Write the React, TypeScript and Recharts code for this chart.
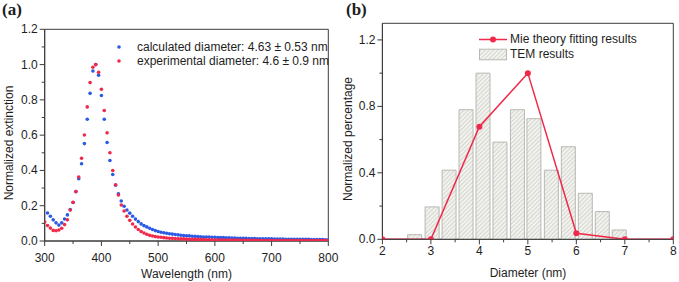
import {
  Bar,
  ComposedChart,
  Legend,
  Line,
  ReferenceArea,
  Scatter,
  ScatterChart,
  XAxis,
  YAxis,
} from "recharts";

// (a) extinction spectra, 5 nm steps
const wavelengths = [
  300, 305, 310, 315, 320, 325, 330, 335, 340, 345,
  350, 355, 360, 365, 370, 375, 380, 385, 390, 395,
  400, 405, 410, 415, 420, 425, 430, 435, 440, 445,
  450, 455, 460, 465, 470, 475, 480, 485, 490, 495,
  500, 505, 510, 515, 520, 525, 530, 535, 540, 545,
  550, 555, 560, 565, 570, 575, 580, 585, 590, 595,
  600, 605, 610, 615, 620, 625, 630, 635, 640, 645,
  650, 655, 660, 665, 670, 675, 680, 685, 690, 695,
  700, 705, 710, 715, 720, 725, 730, 735, 740, 745,
  750, 755, 760, 765, 770, 775, 780, 785, 790, 795,
  800,
];

const calculated = [
  null, 0.159, 0.14, 0.12, 0.103, 0.09, 0.103, 0.125, 0.148, 0.178,
  0.218, 0.28, 0.353, 0.438, 0.552, 0.69, 0.837, 0.964, 1.0, 0.94,
  0.825, 0.69, 0.558, 0.456, 0.377, 0.316, 0.268, 0.227, 0.197, 0.176,
  0.158, 0.14, 0.124, 0.11, 0.097, 0.087, 0.08, 0.072, 0.065, 0.059,
  0.054, 0.05, 0.047, 0.044, 0.041, 0.039, 0.037, 0.035, 0.033, 0.031,
  0.03, 0.029, 0.027, 0.026, 0.025, 0.024, 0.023, 0.022, 0.022, 0.021,
  0.021, 0.02, 0.019, 0.019, 0.018, 0.018, 0.017, 0.017, 0.016, 0.016,
  0.015, 0.015, 0.014, 0.014, 0.014, 0.013, 0.013, 0.013, 0.012, 0.012,
  0.012, 0.011, 0.011, 0.011, 0.011, 0.01, 0.01, 0.01, 0.01, 0.009,
  0.009, 0.009, 0.009, 0.009, 0.008, 0.008, 0.008, 0.008, 0.008, 0.007,
  0.007,
];

const experimental = [
  0.107, 0.088, 0.073, 0.06, 0.058, 0.062, 0.072, 0.093, 0.12, 0.176,
  0.22, 0.28, 0.363, 0.469, 0.601, 0.76, 0.898, 0.985, 1.0, 0.956,
  0.86, 0.74, 0.613, 0.5, 0.4, 0.319, 0.261, 0.204, 0.17, 0.14,
  0.117, 0.096, 0.079, 0.065, 0.054, 0.045, 0.038, 0.032, 0.028, 0.025,
  0.023, 0.021, 0.019, 0.017, 0.016, 0.015, 0.014, 0.013, 0.012, 0.012,
  0.011, 0.01, 0.01, 0.009, 0.009, 0.008, 0.008, 0.007, 0.007, 0.007,
  0.006, 0.006, 0.006, 0.006, 0.005, 0.005, 0.005, 0.005, 0.005, 0.004,
  0.004, 0.004, 0.004, 0.004, 0.004, 0.004, 0.003, 0.003, 0.003, 0.003,
  0.003, 0.003, 0.003, 0.003, 0.003, 0.003, 0.003, 0.003, 0.002, 0.002,
  0.002, 0.002, 0.002, 0.002, 0.002, 0.002, 0.002, 0.002, 0.002, 0.002,
  0.002,
];

const aXTicks = [300, 350, 400, 450, 500, 550, 600, 650, 700, 750, 800];
const aXMajor = [300, 400, 500, 600, 700, 800];
const aYTicks = [0, 0.1, 0.2, 0.3, 0.4, 0.5, 0.6, 0.7, 0.8, 0.9, 1.0, 1.1, 1.2];
const aYMajor = [0, 0.2, 0.4, 0.6, 0.8, 1.0, 1.2];

// (b) size distribution
const temDiameters = [2.67, 3.03, 3.38, 3.73, 4.08, 4.43, 4.79, 5.13, 5.49, 5.84, 6.19, 6.54, 6.89];
const temValues = [0.028, 0.195, 0.416, 0.78, 1.0, 0.585, 0.78, 0.726, 0.416, 0.557, 0.277, 0.167, 0.056];
const mieDiameters = [2, 3, 4, 5, 6, 7, 8];
const mieValues = [0, 0, 0.678, 1.0, 0.036, 0, 0];

const bXTicks = [2, 2.5, 3, 3.5, 4, 4.5, 5, 5.5, 6, 6.5, 7, 7.5, 8];
const bXMajor = [2, 3, 4, 5, 6, 7, 8];
const bYTicks = [0, 0.2, 0.4, 0.6, 0.8, 1.0, 1.2];
const bYMajor = [0, 0.4, 0.8, 1.2];

const BLUE = "#2b5be4";
const RED = "#f0294a";
const AXIS = "#3c3c3c";
const TEXT = "#1e1e1e";
const FONT = "'Liberation Sans', Arial, sans-serif";

const calcData = wavelengths
  .map((w, i) => ({ w, v: calculated[i] }))
  .filter((d) => d.v !== null);
const expData = wavelengths.map((w, i) => ({ w, v: experimental[i] }));
const temData = temDiameters.map((d, i) => ({ d, tem: temValues[i] }));
const mieData = mieDiameters.map((d, i) => ({ d, mie: mieValues[i] }));

function xTick(majors: number[], labelDy: number, fmt: (v: number) => string) {
  return (props: any) => {
    const { x, y, payload } = props;
    const major = majors.includes(payload.value);
    return (
      <g>
        <line x1={x} x2={x} y1={y} y2={y + (major ? 5 : 3)} stroke={AXIS} />
        {major && (
          <text x={x} y={y + labelDy} textAnchor="middle" dominantBaseline="central"
            fontSize={12} fontFamily={FONT} fill={TEXT}>
            {fmt(payload.value)}
          </text>
        )}
      </g>
    );
  };
}

function yTick(majors: number[], gap: number) {
  return (props: any) => {
    const { x, y, payload } = props;
    const major = majors.includes(payload.value);
    return (
      <g>
        <line x1={x} x2={x - (major ? 5 : 3)} y1={y} y2={y} stroke={AXIS} />
        {major && (
          <text x={x - gap} y={y} textAnchor="end" dominantBaseline="central"
            fontSize={12} fontFamily={FONT} fill={TEXT}>
            {payload.value.toFixed(1)}
          </text>
        )}
      </g>
    );
  };
}

const dot = (color: string) => (p: any) => <circle cx={p.cx} cy={p.cy} r={1.8} fill={color} />;

function LegendA() {
  const rows = [
    { color: BLUE, name: "calculated diameter: 4.63 \u00b1 0.53 nm" },
    { color: RED, name: "experimental diameter: 4.6 \u00b1 0.9 nm" },
  ];
  return (
    <div style={{ fontFamily: FONT, fontSize: 12, color: TEXT }}>
      {rows.map((r) => (
        <div key={r.name} style={{ display: "flex", alignItems: "center", height: 14, whiteSpace: "nowrap" }}>
          <svg width={27} height={14}>
            <circle cx={9} cy={7} r={1.8} fill={r.color} />
          </svg>
          <span>{r.name}</span>
        </div>
      ))}
    </div>
  );
}

function LegendB() {
  return (
    <div style={{ fontFamily: FONT, fontSize: 12, color: TEXT }}>
      <div style={{ display: "flex", alignItems: "center", height: 15, whiteSpace: "nowrap" }}>
        <svg width={31} height={15}>
          <line x1={0} x2={28} y1={7.5} y2={7.5} stroke={RED} strokeWidth={1.5} />
          <circle cx={14} cy={7.5} r={3} fill={RED} />
        </svg>
        <span>Mie theory fitting results</span>
      </div>
      <div style={{ display: "flex", alignItems: "center", height: 15, whiteSpace: "nowrap" }}>
        <svg width={31} height={15}>
          <rect x={0.5} y={2.2} width={27} height={10.6} fill="url(#hatchLeg)" stroke="#b8b8b4" />
        </svg>
        <span>TEM results</span>
      </div>
    </div>
  );
}

const abs = (left: number, top: number): React.CSSProperties => ({
  position: "absolute",
  left,
  top,
  fontFamily: FONT,
  fontSize: 12,
  color: TEXT,
  whiteSpace: "nowrap",
});

export default function App() {
  return (
    <div style={{ position: "absolute", left: 0, top: 0, width: 679, height: 282, background: "#fff", overflow: "hidden" }}>
      <svg width={0} height={0} style={{ position: "absolute" }}>
        <defs>
          <pattern id="hatchLeg" width={3} height={3} patternUnits="userSpaceOnUse" patternTransform="rotate(45)">
            <rect width={3} height={3} fill="#f2f2ee" />
            <line x1={0} y1={0} x2={0} y2={3} stroke="#c4c4bc" strokeWidth={1.2} />
          </pattern>
        </defs>
      </svg>

      <div style={{ position: "absolute", left: 0, top: 0 }}>
        <ScatterChart width={340} height={282} margin={{ top: 29.3, right: 11.7, bottom: 11, left: 4.7 }}>
          <XAxis type="number" dataKey="w" domain={[300, 800]} ticks={aXTicks} allowDataOverflow
            height={30} tickSize={0} tickMargin={0} tickLine={false} stroke={AXIS}
            tick={xTick(aXMajor, 16.5, (v) => String(v))} interval={0} />
          <YAxis type="number" dataKey="v" domain={[0, 1.2]} ticks={aYTicks} allowDataOverflow
            width={40} tickSize={0} tickMargin={0} tickLine={false} stroke={AXIS}
            tick={yTick(aYMajor, 7)} interval={0} />
          <ReferenceArea x1={300} x2={800} y1={0} y2={1.2} fill="none" stroke={AXIS} strokeWidth={1} />
          <Scatter data={calcData} shape={dot(BLUE)} isAnimationActive={false} />
          <Scatter data={expData} shape={dot(RED)} isAnimationActive={false} />
          <Legend layout="vertical" align="center" verticalAlign="middle" content={() => <LegendA />}
            wrapperStyle={{ left: 110, top: 40, width: 230 }} />
        </ScatterChart>
      </div>

      <div style={{ position: "absolute", left: 340, top: 0 }}>
        <ComposedChart width={339} height={282} data={temData} margin={{ top: 23.3, right: 5.7, bottom: 12.7, left: 2.4 }}>
          <defs>
            <pattern id="hatch" width={3} height={3} patternUnits="userSpaceOnUse" patternTransform="rotate(45)">
              <rect width={3} height={3} fill="#f2f2ee" />
              <line x1={0} y1={0} x2={0} y2={3} stroke="#c4c4bc" strokeWidth={1.2} />
            </pattern>
          </defs>
          <XAxis type="number" dataKey="d" domain={[2, 8]} ticks={bXTicks} allowDataOverflow
            height={30} tickSize={0} tickMargin={0} tickLine={false} stroke={AXIS}
            tick={xTick(bXMajor, 12, (v) => String(v))} interval={0} />
          <XAxis xAxisId="mie" type="number" dataKey="d" domain={[2, 8]} allowDataOverflow hide />
          <YAxis type="number" domain={[0, 1.3]} ticks={bYTicks} allowDataOverflow
            width={40} tickSize={0} tickMargin={0} tickLine={false} stroke={AXIS}
            tick={yTick(bYMajor, 7)} interval={0} />
          <Bar dataKey="tem" barSize={14} fill="url(#hatch)" stroke="#b8b8b4" strokeWidth={1}
            isAnimationActive={false} />
          <Line xAxisId="mie" data={mieData} dataKey="mie" stroke={RED} strokeWidth={1.5}
            dot={{ r: 3, fill: RED, stroke: RED, strokeWidth: 0 }} activeDot={false}
            isAnimationActive={false} />
          <ReferenceArea x1={2} x2={8} y1={0} y2={1.3} fill="none" stroke={AXIS} strokeWidth={1} />
          <Legend layout="vertical" align="center" verticalAlign="middle" content={() => <LegendB />}
            wrapperStyle={{ left: 139, top: 31.5, width: 190 }} />
        </ComposedChart>
      </div>

      <div style={{ ...abs(2, 0), fontFamily: "'Liberation Serif', serif", fontWeight: "bold", fontSize: 17 }}>(a)</div>
      <div style={{ ...abs(346, 0), fontFamily: "'Liberation Serif', serif", fontWeight: "bold", fontSize: 17 }}>(b)</div>

      <div style={{ ...abs(186.5, 274.3), transform: "translate(-50%, -50%)" }}>Wavelength (nm)</div>
      <div style={{ ...abs(9, 143), transform: "translate(-50%, -50%) rotate(-90deg)" }}>Normalized extinction</div>

      <div style={{ ...abs(528, 272.7), transform: "translate(-50%, -50%)" }}>Diameter (nm)</div>
      <div style={{ ...abs(347.5, 139), transform: "translate(-50%, -50%) rotate(-90deg)" }}>Normalized percentage</div>
    </div>
  );
}
